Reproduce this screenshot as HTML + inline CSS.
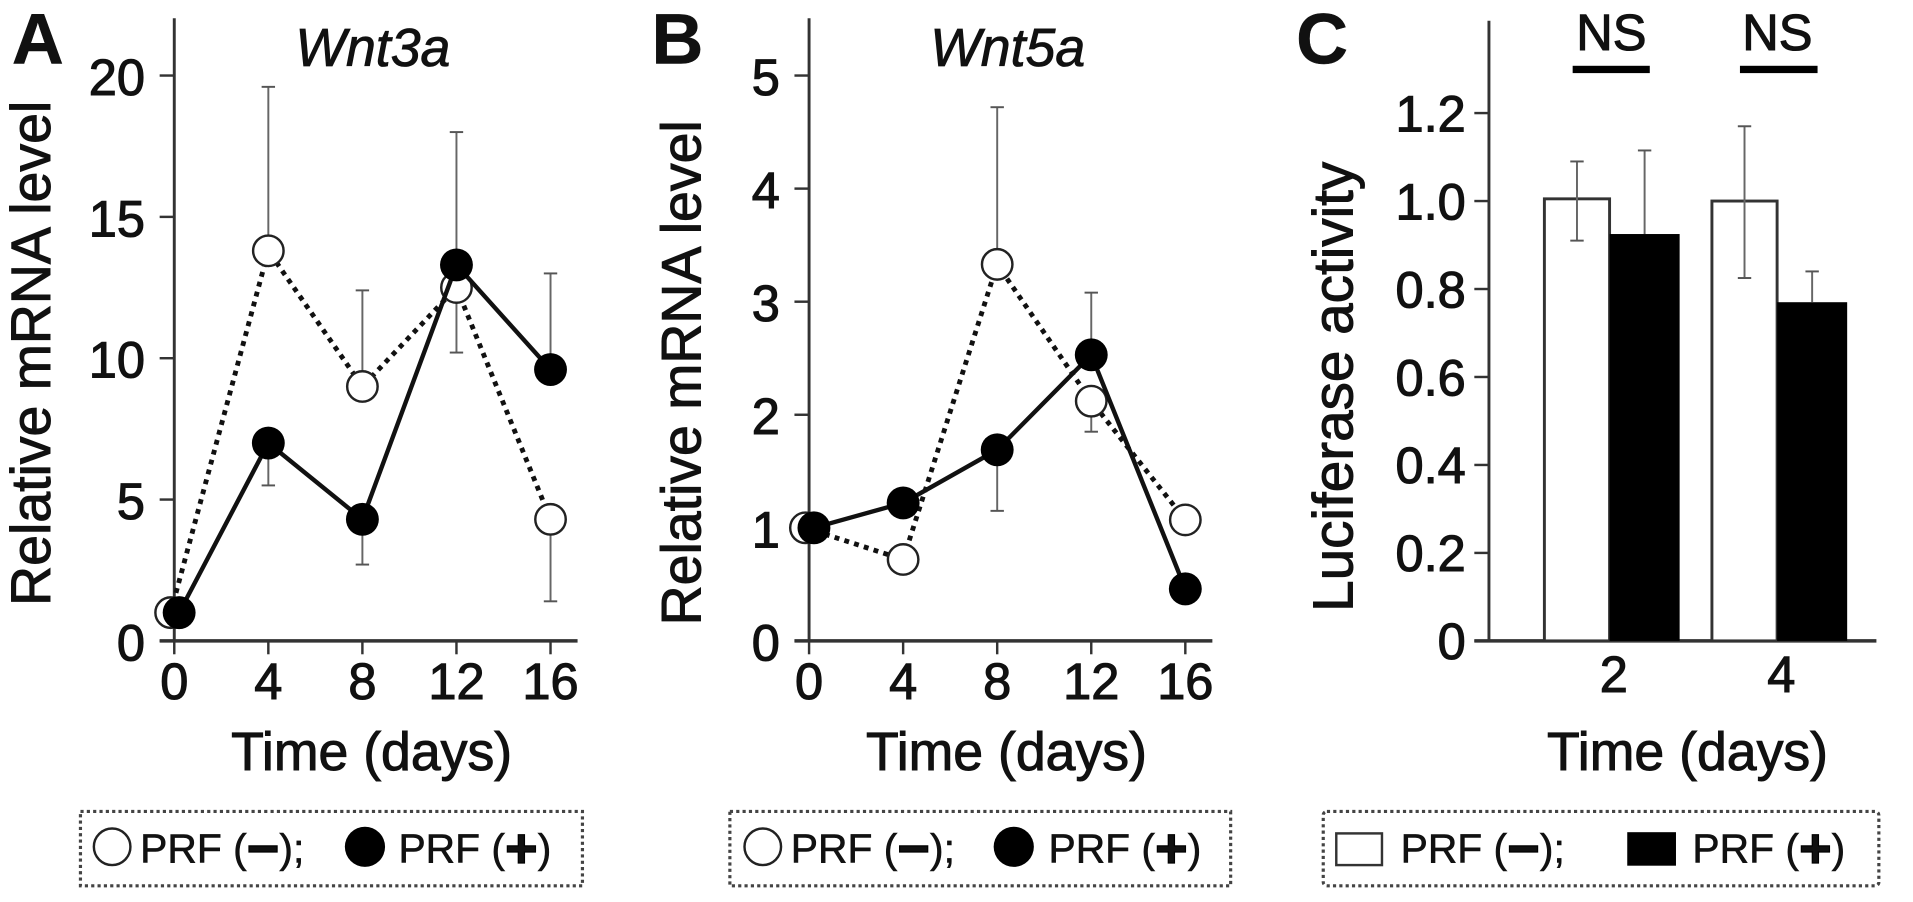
<!DOCTYPE html>
<html lang="en">
<head>
<meta charset="utf-8">
<title>PRF effects on Wnt3a, Wnt5a and luciferase activity</title>
<style>
html,body{margin:0;padding:0;background:#fff;width:1913px;height:902px;overflow:hidden}
svg{display:block}
text{font-family:"Liberation Sans",sans-serif;fill:#111}
.tick{font-size:41.5px;stroke:#111;stroke-width:.9px}
.lab{font-size:45.5px;stroke:#111;stroke-width:.8px}
.xlab{font-size:44px;stroke:#111;stroke-width:.8px}
.ttl{font-size:44px;font-style:italic;stroke:#111;stroke-width:.7px}
.ltr{font-size:59px;font-weight:bold;stroke:#111;stroke-width:.4px}
.leg{font-size:33.5px;stroke:#111;stroke-width:.5px}
.sym{font-size:46px;font-weight:bold;stroke:#000;stroke-width:1px}
</style>
</head>
<body>
<svg id="fig" xmlns="http://www.w3.org/2000/svg" width="1913" height="902" viewBox="0 0 1570 740.3">
  <rect width="1570" height="741" fill="#fff"/>
  <g id="panel-a">
    <text class="ltr" x="31" y="52" text-anchor="middle">A</text>
    <text class="ttl" x="306" y="54" text-anchor="middle">Wnt3a</text>
    <text class="lab" transform="translate(41 290) rotate(-90)" text-anchor="middle">Relative mRNA level</text>
    <text class="xlab" x="305" y="632" text-anchor="middle">Time (days)</text>
  </g>
  <g id="panel-b">
    <text class="ltr" x="556" y="52" text-anchor="middle">B</text>
    <text class="ttl" x="827" y="54" text-anchor="middle">Wnt5a</text>
    <text class="lab" transform="translate(575 306) rotate(-90)" text-anchor="middle">Relative mRNA level</text>
    <text class="xlab" x="826" y="632" text-anchor="middle">Time (days)</text>
  </g>
  <g id="panel-c">
    <text class="ltr" x="1085" y="52" text-anchor="middle">C</text>
    <text class="lab" style="font-size:46.5px" transform="translate(1110 317.5) rotate(-90)" text-anchor="middle">Luciferase activity</text>
    <text class="xlab" x="1385" y="632" text-anchor="middle">Time (days)</text>
    <text class="tick" x="1322.5" y="41" text-anchor="middle">NS</text>
    <text class="tick" x="1458.7" y="41" text-anchor="middle">NS</text>
    <rect x="1290.7" y="54" width="63.3" height="6" fill="#000"/>
    <rect x="1428" y="54" width="63.7" height="6" fill="#000"/>
  </g>
  <g>
    <rect x="66" y="666" width="412" height="61" fill="none" stroke="#444" stroke-width="2.6" stroke-dasharray="2.6 2.6"/>
    <circle cx="92" cy="695" r="15" fill="#fff" stroke="#222" stroke-width="2"/>
    <text class="leg" x="115" y="708">PRF (<tspan class="sym" dy="4">−</tspan><tspan dy="-4">);</tspan></text>
    <circle cx="299.5" cy="695" r="16.5" fill="#000"/>
    <text class="leg" x="327" y="708">PRF (<tspan class="sym" dy="4">+</tspan><tspan dy="-4">)</tspan></text>
  </g>
  <g>
    <rect x="599" y="666" width="411" height="61" fill="none" stroke="#444" stroke-width="2.6" stroke-dasharray="2.6 2.6"/>
    <circle cx="626" cy="695" r="15" fill="#fff" stroke="#222" stroke-width="2"/>
    <text class="leg" x="649" y="708">PRF (<tspan class="sym" dy="4">−</tspan><tspan dy="-4">);</tspan></text>
    <circle cx="832" cy="695" r="16.5" fill="#000"/>
    <text class="leg" x="860.5" y="708">PRF (<tspan class="sym" dy="4">+</tspan><tspan dy="-4">)</tspan></text>
  </g>
  <g>
    <rect x="1086" y="666" width="456" height="61" rx="3" fill="none" stroke="#444" stroke-width="2.6" stroke-dasharray="2.6 2.6"/>
    <rect x="1096.7" y="684" width="37.5" height="26" fill="#fff" stroke="#333" stroke-width="2"/>
    <text class="leg" x="1149.5" y="708">PRF (<tspan class="sym" dy="4">−</tspan><tspan dy="-4">);</tspan></text>
    <rect x="1335.5" y="683" width="40" height="27.5" fill="#000"/>
    <text class="leg" x="1389" y="708">PRF (<tspan class="sym" dy="4">+</tspan><tspan dy="-4">)</tspan></text>
  </g>
</svg>
<script>
// Shared time axis
const dayTicks = [0, 4, 8, 12, 16];

// Panel A: Wnt3a
const wnt3aTicks = [0, 5, 10, 15, 20];
const wnt3aMinus = [1.0, 13.8, 9.0, 12.5, 4.3];
const wnt3aPlus = [1.0, 7.0, 4.3, 13.3, 9.6];
const wnt3aMinusErrorEnd = [null, 19.6, 12.4, 10.2, 1.4];
const wnt3aPlusErrorEnd = [null, 5.5, 2.7, 18.0, 13.0];

// Panel B: Wnt5a
const wnt5aTicks = [0, 1, 2, 3, 4, 5];
const wnt5aMinus = [1.0, 0.72, 3.33, 2.12, 1.07];
const wnt5aPlus = [1.0, 1.22, 1.69, 2.53, 0.46];
const wnt5aMinusErrorEnd = [null, null, 4.72, 1.85, null];
const wnt5aPlusErrorEnd = [null, null, 1.15, 3.08, null];

// Panel C: luciferase
const lucCategories = ['2', '4'];
const lucTicks = ['0', '0.2', '0.4', '0.6', '0.8', '1.0', '1.2'];
const lucMinus = [1.005, 1.0];
const lucPlus = [0.925, 0.77];
const lucMinusErrorHigh = [1.09, 1.17];
const lucMinusErrorLow = [0.91, 0.825];
const lucPlusErrorHigh = [1.115, 0.84];

const NS = 'http://www.w3.org/2000/svg';

function mk(parent, tag, attrs, name) {
  const el = document.createElementNS(NS, tag);
  for (const k in attrs) el.setAttribute(k, attrs[k]);
  
  
  parent.appendChild(el);
  return el;
}

function line(parent, x1, y1, x2, y2, stroke, width, name, dash) {
  const attrs = {x1: x1, y1: y1, x2: x2, y2: y2, stroke: stroke, 'stroke-width': width};
  if (dash) attrs['stroke-dasharray'] = dash;
  return mk(parent, 'line', attrs, name);
}

function errorBar(parent, x, y1, y2, name) {
  line(parent, x, y1, x, y2, '#666', 1.6, name);
  line(parent, x - 5.5, y2, x + 5.5, y2, '#555', 1.6, name + '-cap');
}

function linePanel(cfg) {
  const g = document.getElementById(cfg.id);
  const xS = d => cfg.x0 + d * cfg.xStep;
  const yS = v => cfg.y0 - v * cfg.yStep;
  const ax = '#333';

  line(g, cfg.x0, cfg.top, cfg.x0, cfg.y0, ax, 2.4, 'y-axis-line');
  line(g, cfg.x0 - 12, cfg.y0, cfg.xEnd, cfg.y0, ax, 2.8, 'x-axis-line');

  cfg.yTicks.forEach(t => {
    line(g, cfg.x0 - 12, yS(t), cfg.x0, yS(t), ax, 2, 'y-tick-' + t);
    const lbl = mk(g, 'text', {class: 'tick', x: cfg.x0 - 24, y: yS(t) + 16, 'text-anchor': 'end'}, 'y-tick-label-' + t);
    lbl.textContent = t;
  });
  dayTicks.forEach(d => {
    line(g, xS(d), cfg.y0, xS(d), cfg.y0 + 11, ax, 2, 'x-tick-' + d);
    const lbl = mk(g, 'text', {class: 'tick', x: xS(d), y: cfg.y0 + 47.5, 'text-anchor': 'middle'}, 'x-tick-label-' + d);
    lbl.textContent = d;
  });

  const xMinus = (d, i) => xS(d) - (i === 0 ? 3 : 0);
  const xPlus = (d, i) => xS(d) + (i === 0 ? 4 : 0);

  dayTicks.forEach((d, i) => {
    if (cfg.minusErr[i] !== null) errorBar(g, xS(d), yS(cfg.minus[i]), yS(cfg.minusErr[i]), 'error-bar-prf-minus-day-' + d);
    if (cfg.plusErr[i] !== null) errorBar(g, xS(d), yS(cfg.plus[i]), yS(cfg.plusErr[i]), 'error-bar-prf-plus-day-' + d);
  });

  mk(g, 'polyline', {
    points: dayTicks.map((d, i) => xMinus(d, i) + ',' + yS(cfg.minus[i])).join(' '),
    fill: 'none', stroke: '#111', 'stroke-width': 4, 'stroke-dasharray': '4 4.4'
  }, 'series-line-prf-minus');

  dayTicks.forEach((d, i) => {
    mk(g, 'circle', {cx: xMinus(d, i), cy: yS(cfg.minus[i]), r: 12.5, fill: '#fff', stroke: '#222', 'stroke-width': 2}, 'point-prf-minus-day-' + d);
  });

  mk(g, 'polyline', {
    points: dayTicks.map((d, i) => xPlus(d, i) + ',' + yS(cfg.plus[i])).join(' '),
    fill: 'none', stroke: '#111', 'stroke-width': 3.6
  }, 'series-line-prf-plus');

  dayTicks.forEach((d, i) => {
    mk(g, 'circle', {cx: xPlus(d, i), cy: yS(cfg.plus[i]), r: 13.5, fill: '#000'}, 'point-prf-plus-day-' + d);
  });
}

linePanel({
  id: 'panel-a', x0: 143, xStep: 19.3, xEnd: 474, y0: 526, top: 15, yStep: 23.2,
  yTicks: wnt3aTicks, minus: wnt3aMinus, plus: wnt3aPlus,
  minusErr: wnt3aMinusErrorEnd, plusErr: wnt3aPlusErrorEnd
});

linePanel({
  id: 'panel-b', x0: 664, xStep: 19.3, xEnd: 995, y0: 526, top: 15, yStep: 92.8,
  yTicks: wnt5aTicks, minus: wnt5aMinus, plus: wnt5aPlus,
  minusErr: wnt5aMinusErrorEnd, plusErr: wnt5aPlusErrorEnd
});

(function barPanel() {
  const g = document.getElementById('panel-c');
  const x0 = 1222, y0 = 526, yStep = 361, ax = '#333';
  const yS = v => y0 - v * yStep;
  const groupLeft = i => 1267.5 + i * 137.5;
  const barW = 53.5;

  line(g, x0, 17, x0, y0, ax, 2.4, 'y-axis-line-c');
  line(g, x0 - 12, y0, 1540, y0, ax, 2.8, 'x-axis-line-c');

  lucTicks.forEach(t => {
    const v = parseFloat(t);
    line(g, x0 - 12, yS(v), x0, yS(v), ax, 2, 'y-tick-' + t);
    const lbl = mk(g, 'text', {class: 'tick', x: x0 - 19, y: yS(v) + 15, 'text-anchor': 'end'}, 'y-tick-label-' + t);
    lbl.textContent = t;
  });

  lucCategories.forEach((c, i) => {
    const left = groupLeft(i);
    const mid = left + barW;
    const right = mid + 57.5;
    const xMinus = left + barW / 2;
    const xPlus = mid + 28.75;

    const lbl = mk(g, 'text', {class: 'tick', x: mid + 3.5, y: y0 + 42, 'text-anchor': 'middle'}, 'x-tick-label-day-' + c);
    lbl.textContent = c;

    mk(g, 'rect', {x: left, y: yS(lucMinus[i]), width: barW, height: y0 - yS(lucMinus[i]), fill: '#fff', stroke: '#333', 'stroke-width': 2.4}, 'bar-prf-minus-day-' + c);
    mk(g, 'rect', {x: mid, y: yS(lucPlus[i]), width: right - mid, height: y0 - yS(lucPlus[i]), fill: '#000'}, 'bar-prf-plus-day-' + c);

    line(g, xMinus, yS(lucMinusErrorLow[i]), xMinus, yS(lucMinusErrorHigh[i]), '#666', 1.6, 'error-bar-prf-minus-day-' + c);
    line(g, xMinus - 5.5, yS(lucMinusErrorHigh[i]), xMinus + 5.5, yS(lucMinusErrorHigh[i]), '#555', 1.6, 'error-cap-high-prf-minus-day-' + c);
    line(g, xMinus - 5.5, yS(lucMinusErrorLow[i]), xMinus + 5.5, yS(lucMinusErrorLow[i]), '#555', 1.6, 'error-cap-low-prf-minus-day-' + c);
    errorBar(g, xPlus, yS(lucPlus[i]), yS(lucPlusErrorHigh[i]), 'error-bar-prf-plus-day-' + c);
  });
})();
</script>
</body>
</html>
